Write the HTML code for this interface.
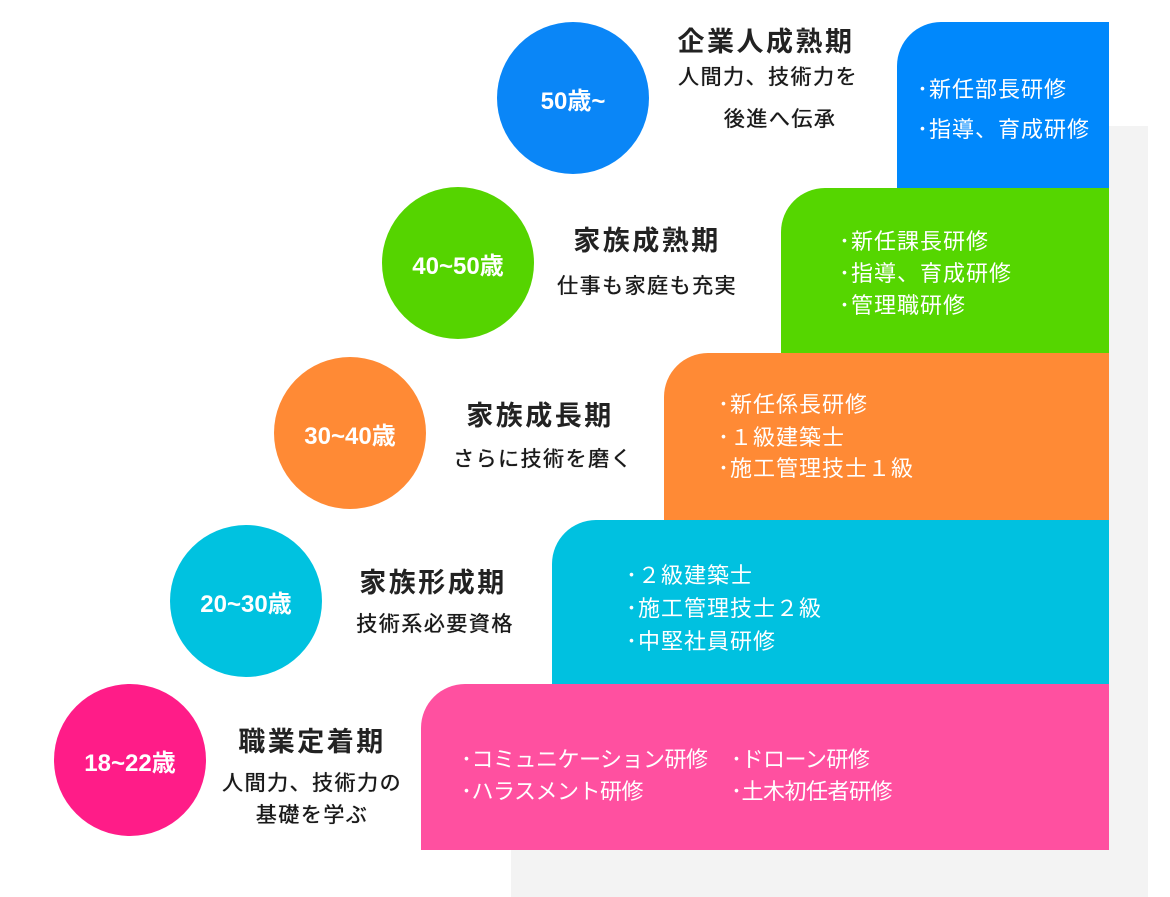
<!DOCTYPE html>
<html><head><meta charset="utf-8"><style>
*{margin:0;padding:0;box-sizing:border-box}
body{width:1170px;height:897px;background:#fff;position:relative;overflow:hidden;font-family:"Liberation Sans","Noto Sans CJK JP",sans-serif}
.a{position:absolute}
.box{position:absolute;right:61px;border-top-left-radius:44px;color:#fff;font-size:22px;letter-spacing:1px}
.c{position:absolute;width:152px;height:152px;border-radius:50%;color:#fff;font-weight:bold;font-size:24px;display:flex;align-items:center;justify-content:center}
.t{position:absolute;width:300px;text-align:center;color:#222;font-weight:bold;font-size:27px;letter-spacing:2.5px;line-height:30px}
.s{position:absolute;width:300px;text-align:center;color:#1a1a1a;font-size:21px;letter-spacing:1.5px;line-height:32px;text-shadow:0 0 0.6px #1a1a1a,0.3px 0 0 #1a1a1a}
.box div{position:absolute;white-space:nowrap;line-height:32px}
</style></head><body>
<div class="a" style="left:1109px;top:126px;width:39px;height:771px;background:#f3f3f3"></div>
<div class="a" style="left:511px;top:850px;width:637px;height:47px;background:#f3f3f3"></div>

<div class="box" style="left:897px;top:22px;height:166px;background:#0088fc">
<div style="left:20px;top:52px">･新任部長研修</div><div style="left:20px;top:92px">･指導、育成研修</div></div>
<div class="box" style="left:781px;top:188px;height:165px;background:#55d600">
<div style="left:58px;top:38px">･新任課長研修</div><div style="left:58px;top:70px">･指導、育成研修</div><div style="left:58px;top:102px">･管理職研修</div></div>
<div class="box" style="left:664px;top:353px;height:167px;background:#ff8a35">
<div style="left:54px;top:36px">･新任係長研修</div><div style="left:54px;top:69px">･１級建築士</div><div style="left:54px;top:100px">･施工管理技士１級</div></div>
<div class="box" style="left:552px;top:520px;height:164px;background:#00c1e0">
<div style="left:74px;top:40px">･２級建築士</div><div style="left:74px;top:73px">･施工管理技士２級</div><div style="left:74px;top:106px">･中堅社員研修</div></div>
<div class="box" style="left:421px;top:684px;height:166px;background:#ff50a0;letter-spacing:-0.5px">
<div style="left:40px;top:60px">･コミュニケーション研修</div><div style="left:40px;top:92px">･ハラスメント研修</div>
<div style="left:310px;top:60px">･ドローン研修</div><div style="left:310px;top:92px">･土木初任者研修</div></div>

<div class="c" style="left:497px;top:22px;background:#0a86f7">50歳~</div>
<div class="c" style="left:382px;top:187px;background:#55d400">40~50歳</div>
<div class="c" style="left:274px;top:357px;background:#ff8a35">30~40歳</div>
<div class="c" style="left:170px;top:525px;background:#00c2e0">20~30歳</div>
<div class="c" style="left:54px;top:684px;background:#ff1c88">18~22歳</div>

<div class="t" style="left:616px;top:27px">企業人成熟期</div>
<div class="s" style="left:618px;top:62px">人間力、技術力を</div>
<div class="s" style="left:630px;top:104px">後進へ伝承</div>
<div class="t" style="left:497px;top:226px">家族成熟期</div>
<div class="s" style="left:497px;top:271px">仕事も家庭も充実</div>
<div class="t" style="left:390px;top:401px">家族成長期</div>
<div class="s" style="left:393px;top:444px">さらに技術を磨く</div>
<div class="t" style="left:283px;top:568px">家族形成期</div>
<div class="s" style="left:285px;top:609px">技術系必要資格</div>
<div class="t" style="left:162px;top:727px">職業定着期</div>
<div class="s" style="left:162px;top:768px">人間力、技術力の</div>
<div class="s" style="left:162px;top:800px">基礎を学ぶ</div>
</body></html>
